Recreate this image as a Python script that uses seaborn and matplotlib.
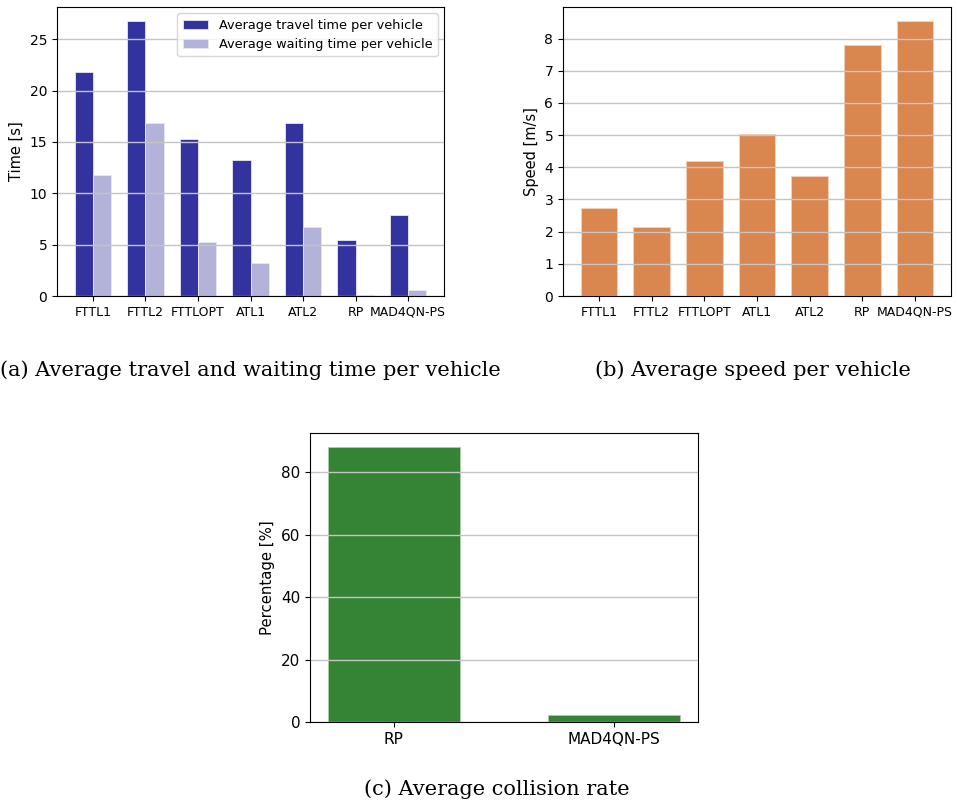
import matplotlib
matplotlib.use("Agg")
import pandas as pd
import seaborn as sns
from matplotlib import pyplot as plt

methods = ["FTTL1", "FTTL2", "FTTLOPT", "ATL1", "ATL2", "RP", "MAD4QN-PS"]
travel_time = [21.8, 26.8, 15.25, 13.25, 16.8, 5.5, 7.9]
waiting_time = [11.8, 16.8, 5.25, 3.25, 6.75, 0.1, 0.55]
avg_speed = [2.73, 2.15, 4.19, 5.03, 3.73, 7.80, 8.55]
collision_methods = ["RP", "MAD4QN-PS"]
collision_rate = [88.1, 2.1]

travel_label = "Average travel time per vehicle"
waiting_label = "Average waiting time per vehicle"

fig = plt.figure(figsize=(9.57, 8.11), dpi=100)
W, H = 957, 811


def add_axes(left, top, right, bottom):
    return fig.add_axes([left / W, 1 - bottom / H, (right - left) / W, (bottom - top) / H])


# (a) travel and waiting time
times_df = pd.DataFrame(
    {
        "method": methods * 2,
        "value": travel_time + waiting_time,
        "metric": [travel_label] * len(methods) + [waiting_label] * len(methods),
    }
)
ax_a = add_axes(57, 7, 444, 296)
sns.barplot(
    data=times_df,
    x="method",
    y="value",
    hue="metric",
    palette=["#3333a0", "#b3b3da"],
    width=0.7,
    saturation=1,
    edgecolor="#e8e8f4",
    linewidth=0.6,
    errorbar=None,
    ax=ax_a,
)
ax_a.set_xlim(-0.685, 6.685)
ax_a.set_ylim(0, 28.14)
ax_a.set_xlabel("")
ax_a.set_ylabel("Time [s]", fontsize=10.5)
ax_a.tick_params(axis="x", labelsize=9)
ax_a.tick_params(axis="y", labelsize=10)
ax_a.yaxis.grid(True, color="#c4c4c4", linewidth=1.0)
ax_a.set_axisbelow("line")
ax_a.legend(loc="upper right", fontsize=9.3, title=None)

# (b) speed
speed_df = pd.DataFrame({"method": methods, "speed": avg_speed})
ax_b = add_axes(563, 7, 951, 296)
sns.barplot(
    data=speed_df,
    x="method",
    y="speed",
    color="#da874f",
    width=0.7,
    saturation=1,
    edgecolor="#f4d2b8",
    linewidth=0.6,
    errorbar=None,
    ax=ax_b,
)
ax_b.set_xlim(-0.685, 6.685)
ax_b.set_ylim(0, 8.98)
ax_b.set_xlabel("")
ax_b.set_ylabel("Speed [m/s]", fontsize=10.5)
ax_b.tick_params(axis="x", labelsize=9)
ax_b.tick_params(axis="y", labelsize=10)
ax_b.yaxis.grid(True, color="#c4c4c4", linewidth=1.0)
ax_b.set_axisbelow("line")

# (c) collision rate
coll_df = pd.DataFrame({"method": collision_methods, "rate": collision_rate})
ax_c = add_axes(310, 433, 698, 722)
sns.barplot(
    data=coll_df,
    x="method",
    y="rate",
    color="#358435",
    width=0.6,
    saturation=1,
    edgecolor="#a8cca8",
    linewidth=0.6,
    errorbar=None,
    ax=ax_c,
)
ax_c.set_xlim(-0.38, 1.38)
ax_c.set_ylim(0, 92.5)
ax_c.set_yticks([0, 20, 40, 60, 80])
ax_c.set_xlabel("")
ax_c.set_ylabel("Percentage [%]", fontsize=10.7)
ax_c.tick_params(axis="both", labelsize=11)
ax_c.yaxis.grid(True, color="#c4c4c4", linewidth=1.0)
ax_c.set_axisbelow("line")

# captions
cap_kw = dict(family="DejaVu Serif", fontsize=15, ha="center", va="baseline")
fig.text(250 / W, 1 - 376 / H, "(a) Average travel and waiting time per vehicle", **cap_kw)
fig.text(753 / W, 1 - 376 / H, "(b) Average speed per vehicle", **cap_kw)
fig.text(497 / W, 1 - 795 / H, "(c) Average collision rate", **cap_kw)

fig.savefig("out.png", dpi=100)
plt.close(fig)
